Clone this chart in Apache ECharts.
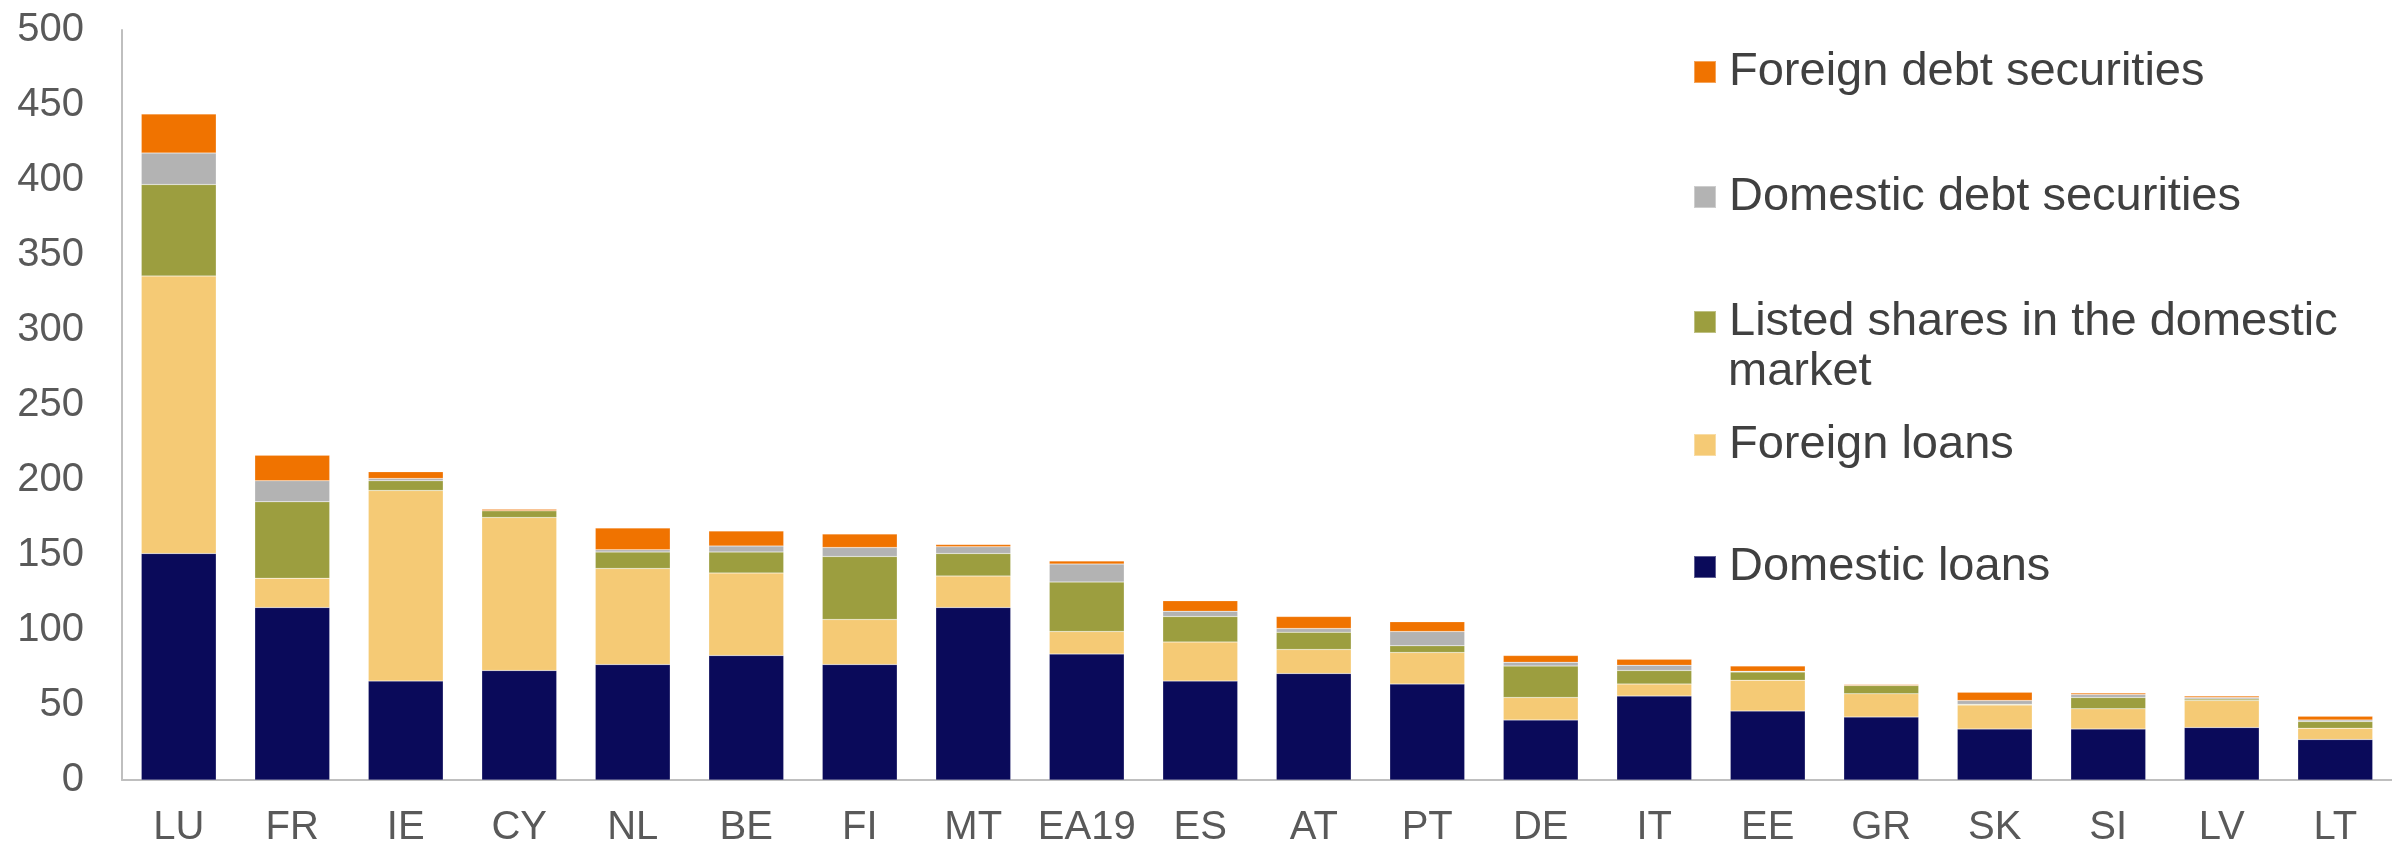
<!DOCTYPE html>
<html>
<head>
<meta charset="utf-8">
<script src="https://cdn.jsdelivr.net/npm/echarts@6/dist/echarts.min.js"></script>
<style>
  html, body { margin: 0; padding: 0; background: #fff; }
  #chart { width: 2392px; height: 853px; }
</style>
</head>
<body>
<div id="chart"></div>
<script>
const categories = ['LU', 'FR', 'IE', 'CY', 'NL', 'BE', 'FI', 'MT', 'EA19', 'ES', 'AT', 'PT', 'DE', 'IT', 'EE', 'GR', 'SK', 'SI', 'LV', 'LT'];
const domesticLoans = [151, 115, 66, 73, 77, 83, 77, 115, 84, 66, 71, 64, 40, 56, 46, 42, 34, 34, 35, 27];
const foreignLoans = [185, 19.5, 127, 102, 64, 55, 30, 21, 15, 26, 16, 21, 15, 8, 20.5, 15.5, 16, 13.5, 18, 7.5];
const listedShares = [61, 51, 6.5, 4.5, 11, 14, 42, 15, 33, 17, 11.5, 4.5, 21, 9, 5.5, 5.5, 0.5, 7.5, 1, 4.5];
const domesticDebt = [21, 14, 1.5, 0, 1.5, 4, 6, 4.5, 12, 3.5, 2.5, 9.5, 2.5, 3.5, 0.5, 0, 2.5, 2, 1, 1];
const foreignDebt = [26, 17, 4.5, 1, 14.5, 10, 9, 1.5, 2, 7, 8, 6.5, 4.5, 4, 3.5, 0.7, 5.5, 1, 1, 2.5];
const yTicks = [0, 50, 100, 150, 200, 250, 300, 350, 400, 450, 500];

const FONT = '"Liberation Sans", Arial, sans-serif';

// 系列：从下到上堆叠；图例按原图位置逐项放置
const seriesDefs = [
  { name: 'Domestic loans', data: domesticLoans, color: '#0A0A5A', legendTop: 542 },
  { name: 'Foreign loans', data: foreignLoans, color: '#F5CA75', legendTop: 420 },
  { name: 'Listed shares in the domestic market', data: listedShares, color: '#9C9E3F', legendTop: 297 },
  { name: 'Domestic debt securities', data: domesticDebt, color: '#B3B3B3', legendTop: 172 },
  { name: 'Foreign debt securities', data: foreignDebt, color: '#F07300', legendTop: 47 }
];

const myChart = echarts.init(document.getElementById('chart'));

const option = {
  animation: false,
  grid: { left: 122, top: 30, width: 2288, height: 750 },
  legend: seriesDefs.map(s => ({
    data: [s.name],
    orient: 'vertical',
    left: 1693,
    top: s.legendTop,
    padding: 0,
    itemWidth: 22,
    itemHeight: 22,
    icon: 'rect',
    selectedMode: false,
    // 第二行 "market" 用下面的 graphic 文本补上
    formatter: name => (name === 'Listed shares in the domestic market' ? 'Listed shares in the domestic' : name),
    textStyle: {
      fontFamily: FONT,
      fontSize: 47,
      color: '#404040',
      lineHeight: 50,
      padding: [0, 0, 0, 8]
    }
  })),
  graphic: [
    {
      type: 'text',
      left: 1728,
      top: 347,
      style: { text: 'market', font: '47px ' + FONT, fill: '#404040', lineHeight: 50 }
    }
  ],
  xAxis: {
    type: 'category',
    data: categories,
    axisLine: { lineStyle: { color: '#BFBFBF', width: 2 } },
    axisTick: { show: false },
    axisLabel: { interval: 0, fontFamily: FONT, fontSize: 40, color: '#595959', margin: 28 }
  },
  yAxis: {
    type: 'value',
    min: yTicks[0],
    max: yTicks[yTicks.length - 1],
    interval: 50,
    splitLine: { show: false },
    axisLine: { show: true, lineStyle: { color: '#BFBFBF', width: 2 } },
    axisTick: { show: false },
    axisLabel: { fontFamily: FONT, fontSize: 40, color: '#595959', margin: 38 }
  },
  series: seriesDefs.map(s => ({
    name: s.name,
    type: 'bar',
    stack: 'total',
    barCategoryGap: '34%',
    data: s.data,
    itemStyle: { color: s.color, borderColor: 'rgba(255,255,255,0.35)', borderWidth: 0.5 }
  }))
};
myChart.setOption(option);
</script>
</body>
</html>
